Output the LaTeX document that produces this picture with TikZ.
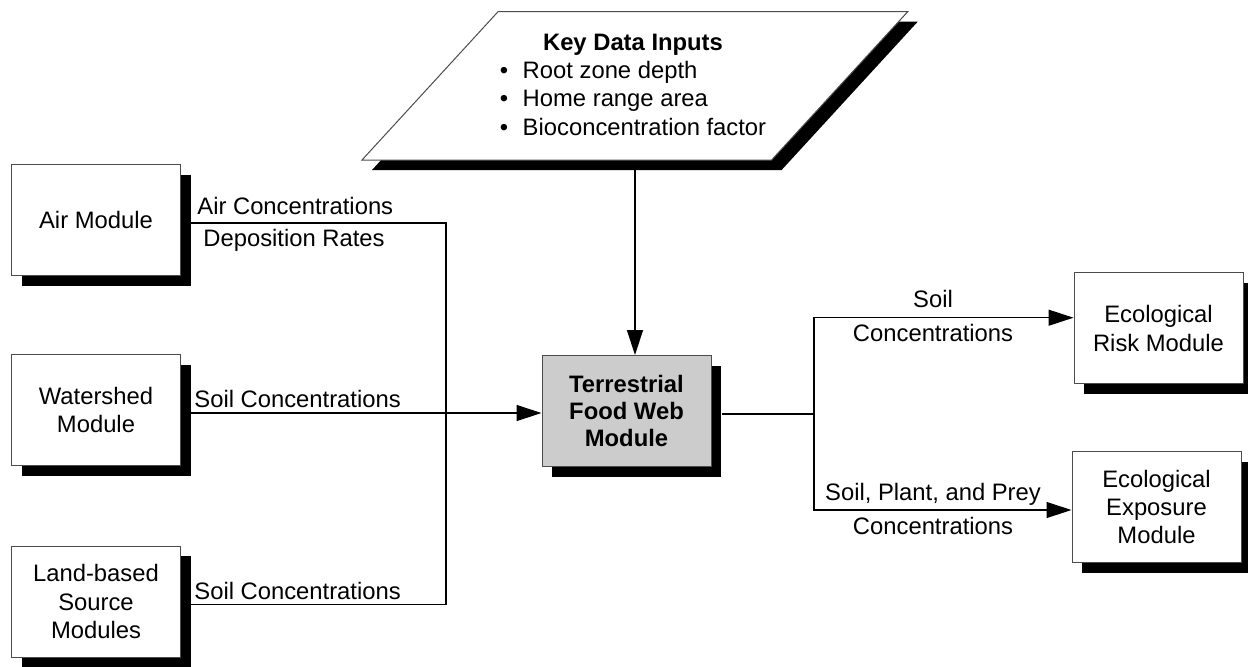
\documentclass[tikz,border=0pt]{standalone}
\usepackage{fontspec}
\setmainfont{Liberation Sans}
\usetikzlibrary{positioning, shadows, arrows.meta, calc}

\begin{document}
\begin{tikzpicture}[
  x=0.5pt, y=-0.5pt,
  font=\fontsize{11.9}{14.2}\selectfont,
  module/.style={
    rectangle, draw=black!70, line width=0.5pt, fill=white,
    minimum width=84.5pt, minimum height=55.5pt, inner sep=2pt,
    align=center,
    drop shadow={shadow xshift=5pt, shadow yshift=-5pt, fill=black, opacity=1},
  },
  core/.style={module, fill=black!20, font=\fontsize{11.9}{13.7}\selectfont\bfseries},
  lbl/.style={inner sep=0pt},
  wire/.style={line width=0.65pt},
  flow/.style={wire, -{Triangle[length=12.5pt, width=8pt]}},
]

\useasboundingbox (0,0) rectangle (1248,666);

% source modules
\node[module] (air) at (96,220) {Air Module};
\node[module] (water) at (96,410) {Watershed\\Module};
\node[module] (land) at (96,601.5) {Land-based\\Source\\Modules};

% food web module and receiving modules
\node[core] (tfw) at (626.5,411) {Terrestrial\\Food Web\\Module};
\node[module] (risk) at (1158.5,328.3) {Ecological\\Risk Module};
\node[module] (expo) at (1156.5,507) {Ecological\\Exposure\\Module};

% key data inputs
\fill[xshift=5pt, yshift=-5pt] (498,11.7) -- (907.7,11.7) -- (771.6,160) -- (362,160) -- cycle;
\draw[fill=white, draw=black!70, line width=0.5pt]
  (498,11.7) -- (907.7,11.7) -- (771.6,160) -- (362,160) -- cycle;
\node[lbl, anchor=base] (inputs) at (633,50) {%
  \begin{tabular}[t]{@{}l@{}}
  \multicolumn{1}{@{}c@{}}{\textbf{Key Data Inputs}}\\
  \textbullet\hspace{7.3pt}Root zone depth\\
  \textbullet\hspace{7.3pt}Home range area\\
  \textbullet\hspace{7.3pt}Bioconcentration factor
  \end{tabular}};
\coordinate (inbot) at (635,170);
\draw[flow] (inbot) -- (inbot |- tfw.north);

% left side
\coordinate (bus) at (446,0);
\coordinate (airout) at ([shift={(10,3)}]air.east);
\coordinate (waterout) at ([shift={(10,3)}]water.east);
\coordinate (landout) at ([shift={(10,3)}]land.east);
\draw[wire] (airout) -| (bus |- landout) -- (landout);
\draw[flow] (waterout) -- (waterout -| tfw.west);

\node[lbl, anchor=base west] (airconc) at (197,214) {Air Concentrations};
\node[lbl, anchor=base west] (deprate) at (203,246.7) {Deposition Rates};
\node[lbl, anchor=base west] (wsoil) at (194,407.3) {Soil Concentrations};
\node[lbl, anchor=base west] (lsoil) at (194,599) {Soil Concentrations};

% right side
\coordinate (split) at (814,0);
\coordinate (tfwout) at ([shift={(10,3)}]tfw.east);
\draw[wire] (tfwout) -- (split |- tfwout);
\draw[flow] (split |- tfwout) |- ([shift={(0,-10.6)}]risk.west);
\draw[flow] (split |- tfwout) |- ([shift={(0,3)}]expo.west);

\node[lbl, anchor=base] (rsoil) at (933,307.3) {Soil};
\node[lbl, anchor=base] (rconc) at (933,341.7) {Concentrations};
\node[lbl, anchor=base] (esoil) at (933,500.5) {Soil, Plant, and Prey};
\node[lbl, anchor=base] (econc) at (933,534) {Concentrations};

\end{tikzpicture}
\end{document}
